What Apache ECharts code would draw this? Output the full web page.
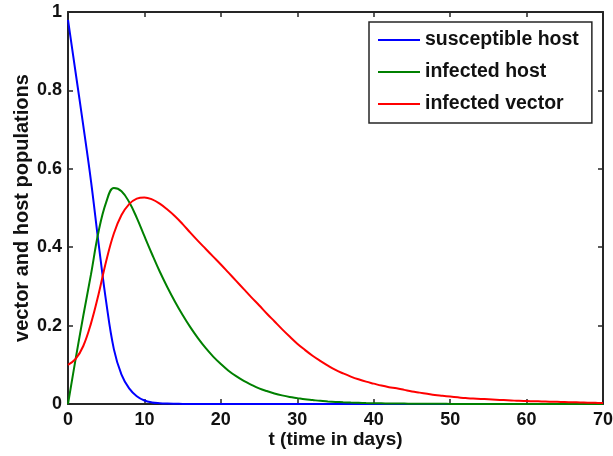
<!DOCTYPE html>
<html><head><meta charset="utf-8">
<script src="https://cdn.jsdelivr.net/npm/echarts@6/dist/echarts.min.js"></script>
<style>html,body{margin:0;padding:0;background:#fff}#c{width:613px;height:456px}</style>
</head><body><div id="c"></div>
<script>
// t = 0..70 days, one reading per day
const tDays = Array.from({length:71}, (_, i) => i);
const susceptibleHost = [0.98,0.845,0.71,0.57,0.41,0.26,0.14,0.075,0.04,0.02,0.009,0.004,0.002,0.001,0.0005,0.0002,
  0,0,0,0,0,0,0,0,0,0,0,0,0,0,0,0,0,0,0,0,0,0,0,0,0,0,0,0,0,0,0,0,0,0,0,0,0,0,0,0,0,0,0,0,0,0,0,0,0,0,0,0,0,0,0];
const infectedHost = [0,0.115,0.225,0.33,0.44,0.515,0.551,0.543,0.515,0.475,0.428,0.382,0.338,0.298,0.261,0.227,
  0.196,0.168,0.143,0.121,0.102,0.085,0.071,0.059,0.049,0.04,0.033,0.027,0.022,0.018,0.015,0.012,0.01,0.008,0.0066,0.0054,
  0.0044,0.0036,0.003,0.0024,0.002,0.0017,0.0014,0.0012,0.001,0.0008,0.0007,0.0006,0.0005,0.0004,0.0003,0.0003,0.0002,0.0002,0.0001,0.0001,
  0,0,0,0,0,0,0,0,0,0,0,0,0,0,0];
const infectedVector = [0.1,0.115,0.148,0.205,0.28,0.365,0.435,0.482,0.51,0.524,0.527,0.522,0.511,0.496,0.479,0.459,
  0.437,0.416,0.396,0.376,0.356,0.335,0.314,0.293,0.272,0.252,0.231,0.211,0.191,0.172,0.154,0.138,0.123,0.11,0.098,0.087,
  0.078,0.07,0.063,0.057,0.052,0.047,0.043,0.04,0.036,0.032,0.029,0.026,0.023,0.021,0.019,0.017,0.015,0.014,0.013,0.012,
  0.011,0.01,0.009,0.008,0.0075,0.007,0.0065,0.006,0.0055,0.005,0.0045,0.004,0.0035,0.003,0.0025];
const seriesNames = ['susceptible host','infected host','infected vector'];
const xTicks = [0,10,20,30,40,50,60,70];
const yTicks = [0,0.2,0.4,0.6,0.8,1];

const FONT = '"Liberation Sans", Arial, sans-serif';
const AX = '#262626';
function pairs(v){ return tDays.map((t,i)=>[t,v[i]]); }
const chart = echarts.init(document.getElementById('c'), null, {renderer:'canvas'});
const baseX = {type:'value', min:0, max:70, interval:10,
  axisLine:{show:true, onZero:false, lineStyle:{color:AX, width:2}},
  axisTick:{show:true, inside:true, length:5, lineStyle:{color:AX, width:1.5}},
  splitLine:{show:false}};
const baseY = {type:'value', min:0, max:1, interval:0.2,
  axisLine:{show:true, onZero:false, lineStyle:{color:AX, width:2}},
  axisTick:{show:true, inside:true, length:5, lineStyle:{color:AX, width:1.5}},
  splitLine:{show:false}};
const lineColors = ['#0000ff','#008000','#ff0000'];
const vals = [susceptibleHost, infectedHost, infectedVector];
chart.setOption({
  animation:false,
  grid:{left:68, right:10, top:12, bottom:52, containLabel:false, outerBoundsMode:'none'},
  legend:{
    data:seriesNames.map(n=>({name:n, icon:'rect'})), orient:'vertical', left:369, top:22,
    backgroundColor:'#fff', borderColor:AX, borderWidth:1.5,
    padding:[8,13,9,9], itemWidth:42, itemHeight:2, itemGap:12,
    textStyle:{fontFamily:FONT, fontWeight:'bold', fontSize:19.5, color:'#111', lineHeight:14}
  },
  xAxis:[
    Object.assign({}, baseX, {position:'bottom',
      axisLabel:{show:true, margin:7, fontFamily:FONT, fontWeight:'bold', fontSize:18, color:'#111',
        formatter:v=>xTicks.includes(v)?String(v):''},
      name:'t (time in days)', nameLocation:'middle', nameGap:26, nameMoveOverlap:false,
      nameTextStyle:{fontFamily:FONT, fontWeight:'bold', fontSize:19, color:'#111'}}),
    Object.assign({}, baseX, {position:'top', axisLabel:{show:false}})
  ],
  yAxis:[
    Object.assign({}, baseY, {position:'left',
      axisLabel:{show:true, margin:6, fontFamily:FONT, fontWeight:'bold', fontSize:18, color:'#111',
        formatter:v=>{const y=yTicks.find(k=>Math.abs(k-v)<1e-9); return y===undefined?'':String(+y.toFixed(1));}},
      name:'vector and host populations', nameLocation:'middle', nameGap:36, nameMoveOverlap:false,
      nameTextStyle:{fontFamily:FONT, fontWeight:'bold', fontSize:20, color:'#111'}}),
    Object.assign({}, baseY, {position:'right', axisLabel:{show:false}})
  ],
  series: seriesNames.map((n,i)=>({
    name:n, type:'line', xAxisIndex:0, yAxisIndex:0,
    data:pairs(vals[i]), showSymbol:false, symbol:'none',
    smooth:0.4,
    lineStyle:{color:lineColors[i], width:2}, itemStyle:{color:lineColors[i]}
  }))
});
</script></body></html>
